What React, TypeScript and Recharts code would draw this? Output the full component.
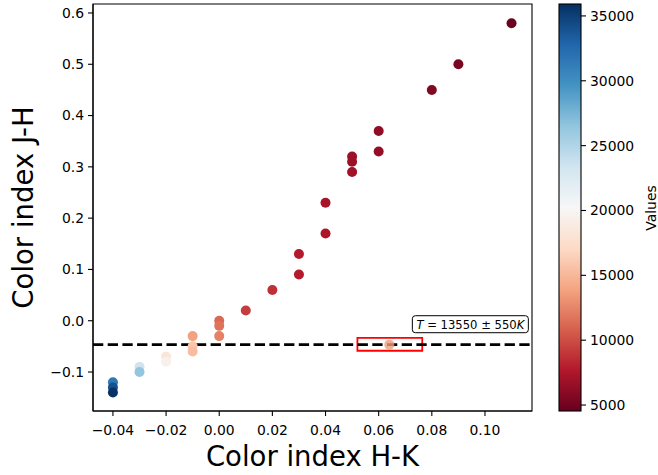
import {ReferenceArea, ReferenceDot, ReferenceLine, Scatter, ScatterChart, XAxis, YAxis} from 'recharts';

// H-K colour index, J-H colour index and temperature of each star
const hkValues = [
  -0.04, -0.04, -0.04,
  -0.03, -0.03,
  -0.02, -0.02,
  -0.01, -0.01, -0.01,
  0.0, 0.0, 0.0,
  0.01, 0.02, 0.03, 0.03, 0.04, 0.04,
  0.05, 0.05, 0.05, 0.06, 0.06,
  0.08, 0.09, 0.11,
];
const jhValues = [
  -0.12, -0.13, -0.14,
  -0.09, -0.1,
  -0.07, -0.08,
  -0.03, -0.05, -0.06,
  0.0, -0.01, -0.03,
  0.02, 0.06, 0.13, 0.09, 0.23, 0.17,
  0.32, 0.31, 0.29, 0.37, 0.33,
  0.45, 0.5, 0.58,
];
const tempValues = [
  31500, 34000, 35800,
  23500, 26500,
  18200, 19500,
  13800, 15800, 15300,
  11200, 11700, 12300,
  9300, 8700, 7800, 7800, 7200, 7400,
  6700, 6800, 6900, 6300, 6400,
  5600, 5300, 4800,
];

// estimated star
const fitHk = [0.064];
const fitJh = [-0.0466];
const fitTemp = [13550];

const xTicks = [-0.04, -0.02, 0.0, 0.02, 0.04, 0.06, 0.08, 0.1];
const yTicks = [-0.1, 0.0, 0.1, 0.2, 0.3, 0.4, 0.5, 0.6];
const barTicks = [5000, 10000, 15000, 20000, 25000, 30000, 35000];

const xDomain: [number, number] = [-0.0475, 0.1177];
const yDomain: [number, number] = [-0.176, 0.6175];
const tempDomain: [number, number] = [4540, 35920];

// matplotlib RdBu, low end first
const rdBu = [
  '#67001f', '#b2182b', '#d6604d', '#f4a582', '#fddbc7', '#f7f7f7',
  '#d1e5f0', '#92c5de', '#4393c3', '#2166ac', '#053061',
];

const hexToRgb = (h: string) => [1, 3, 5].map(i => parseInt(h.slice(i, i + 2), 16));

const colorFor = (t: number) => {
  const f = Math.min(1, Math.max(0, (t - tempDomain[0]) / (tempDomain[1] - tempDomain[0])));
  const pos = f * (rdBu.length - 1);
  const i = Math.min(rdBu.length - 2, Math.floor(pos));
  const k = pos - i;
  const a = hexToRgb(rdBu[i]);
  const b = hexToRgb(rdBu[i + 1]);
  const c = a.map((v, j) => Math.round(v + (b[j] - v) * k));
  return `rgb(${c[0]},${c[1]},${c[2]})`;
};

const stars = hkValues.map((hk, i) => ({hk, jh: jhValues[i], temp: tempValues[i]}));
const fitted = fitHk.map((hk, i) => ({hk, jh: fitJh[i], temp: fitTemp[i]}));

const fmt = (digits: number) => (v: number) => v.toFixed(digits).replace('-', '\u2212');

const FONT = 'DejaVu Sans, sans-serif';
const tickStyle = {fontSize: 13.9, fill: '#000', fontFamily: FONT};

const Dot = (props: any) => {
  const {cx, cy, payload} = props;
  return <circle cx={cx} cy={cy} r={5} fill={colorFor(payload.temp)}/>;
};

const FitDot = (props: any) => {
  const {cx, cy, payload} = props;
  return <circle cx={cx} cy={cy} r={5} fill={colorFor(payload.temp)} fillOpacity={0.8}/>;
};

const FitLabel = (props: any) => {
  const {cx, cy} = props;
  return (
    <g>
      <rect x={cx - 58} y={cy - 8.5} width={116} height={17} rx={3} fill="#fff" stroke="#000" strokeWidth={1}/>
      <text x={cx} y={cy + 4.3} textAnchor="middle" fontSize={11.6} fontFamily={FONT} fill="#000">
        <tspan fontStyle="italic">T</tspan> = 13550 ± 550<tspan fontStyle="italic">K</tspan>
      </text>
    </g>
  );
};

const ColorBar = () => {
  const top = 4;
  const bottom = 411;
  const left = 559;
  const w = 22;
  const yOf = (v: number) =>
    bottom - ((v - tempDomain[0]) / (tempDomain[1] - tempDomain[0])) * (bottom - top);
  return (
    <svg width={658} height={475} style={{position: 'absolute', left: 0, top: 0, pointerEvents: 'none'}}>
      <defs>
        <linearGradient id="rdbu" x1="0" y1="1" x2="0" y2="0">
          {rdBu.map((c, i) => (
            <stop key={c} offset={i / (rdBu.length - 1)} stopColor={c}/>
          ))}
        </linearGradient>
      </defs>
      <rect x={left} y={top} width={w} height={bottom - top} fill="url(#rdbu)" stroke="#000" strokeWidth={1.1}/>
      {barTicks.map(t => (
        <g key={t}>
          <line x1={left + w} x2={left + w + 5} y1={yOf(t)} y2={yOf(t)} stroke="#000" strokeWidth={1.1}/>
          <text x={left + w + 9} y={yOf(t) + 5} fontSize={13.9} fontFamily={FONT} fill="#000">{t}</text>
        </g>
      ))}
      <text
        transform="translate(656,208) rotate(-90)"
        textAnchor="middle"
        fontSize={13.9}
        fontFamily={FONT}
        fill="#000"
      >
        Values
      </text>
    </svg>
  );
};

export default function App() {
  return (
    <div style={{position: 'absolute', left: 0, top: 0, width: 658, height: 475, background: '#fff'}}>
      <ScatterChart width={658} height={475} margin={{top: 4, right: 126, bottom: 0, left: 0}}>
        <XAxis
          type="number"
          dataKey="hk"
          domain={xDomain}
          ticks={xTicks}
          tickFormatter={fmt(2)}
          allowDataOverflow
          height={64}
          tickSize={5}
          tickMargin={9}
          tick={tickStyle}
          stroke="#000"
          strokeWidth={1.1}
          label={(p: any) => (
            <text
              x={p.viewBox.x + p.viewBox.width / 2}
              y={466}
              textAnchor="middle"
              fontSize={27.5}
              fontFamily={FONT}
              fill="#000"
            >
              Color index H-K
            </text>
          )}
        />
        <YAxis
          type="number"
          dataKey="jh"
          domain={yDomain}
          ticks={yTicks}
          tickFormatter={fmt(1)}
          allowDataOverflow
          width={93}
          tickSize={5}
          tickMargin={4}
          tick={tickStyle}
          stroke="#000"
          strokeWidth={1.1}
          label={(p: any) => (
            <text
              transform={`translate(33,${p.viewBox.y + p.viewBox.height / 2}) rotate(-90)`}
              textAnchor="middle"
              fontSize={27.5}
              fontFamily={FONT}
              fill="#000"
            >
              Color index J-H
            </text>
          )}
        />
        <ReferenceArea
          x1={xDomain[0]}
          x2={xDomain[1]}
          y1={yDomain[0]}
          y2={yDomain[1]}
          fill="none"
          stroke="#000"
          strokeWidth={1.1}
          fillOpacity={0}
        />
        <Scatter data={stars} shape={Dot} isAnimationActive={false}/>
        <ReferenceLine y={fitJh[0]} stroke="#000" strokeWidth={2.8} strokeDasharray="10.3 4.4"/>
        <Scatter data={fitted} shape={FitDot} isAnimationActive={false}/>
        <ReferenceArea
          x1={0.052}
          x2={0.0764}
          y1={-0.0585}
          y2={-0.0335}
          fill="none"
          fillOpacity={0}
          stroke="#ff0000"
          strokeWidth={1.8}
          ifOverflow="visible"
        />
        <ReferenceDot x={0.0945} y={-0.0068} r={0} shape={FitLabel} ifOverflow="visible"/>
      </ScatterChart>
      <ColorBar/>
    </div>
  );
}
